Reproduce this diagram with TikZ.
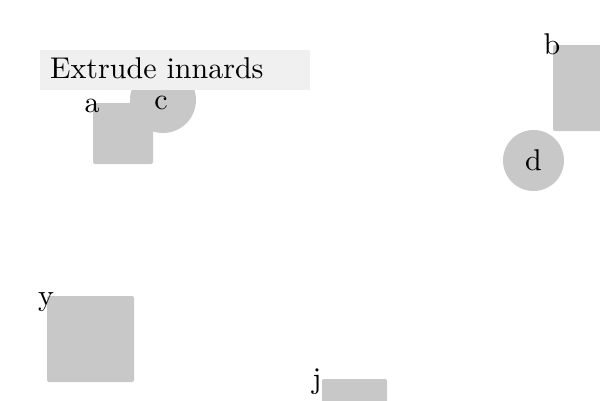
\documentclass[tikz,border=0pt]{standalone}
\usepackage{graphicx}

\definecolor{shapegray}{RGB}{200,200,200}
\definecolor{bargray}{RGB}{240,240,240}

% 10pt design size, blown up
\newcommand{\bigtxt}[1]{\scalebox{3}{\fontsize{10}{12}\selectfont #1}}

\begin{document}
\begin{tikzpicture}[x=1pt,y=-1pt,
    blob/.style={fill=shapegray, rounded corners=2pt, inner sep=0pt, outer sep=0pt},
    disc/.style={fill=shapegray, circle, inner sep=0pt, outer sep=0pt},
    tag/.style={anchor=base, inner sep=0pt, yshift=-9.5pt}]
    \useasboundingbox (0,0) rectangle (600,400);

    % Shapes
    \node[disc, minimum size=66pt] (c) at (163,100) {};
    \node[blob, anchor=north west, minimum width=60pt, minimum height=61pt] (a) at (93,103) {};
    \node[blob, anchor=north west, minimum width=60pt, minimum height=86pt] (b) at (553,45) {};
    \node[disc, minimum size=61pt] (d) at (533.5,160.5) {};
    \node[blob, anchor=north west, minimum width=87pt, minimum height=86pt] (y) at (47,296) {};
    \node[blob, anchor=north west, minimum width=65pt, minimum height=60pt] (j) at (322,379) {};

    % Title bar
    \fill[bargray] (40,50) rectangle (310,90);
    \node[anchor=base west, inner sep=0pt] (title) at (50,78) {\bigtxt{Extrude innards}};

    % Labels
    \node[tag] (la) at ([xshift=-1pt]a.north west) {\bigtxt{a}};
    \node[tag] (lb) at ([xshift=-1pt]b.north west) {\bigtxt{b}};
    \node[tag] (lc) at ([xshift=-2pt]c.center) {\bigtxt{c}};
    \node[tag] (ld) at (d.center) {\bigtxt{d}};
    \node[tag] (ly) at ([xshift=-1pt]y.north west) {\bigtxt{y}};
    \node[tag] (lj) at ([xshift=-5pt]j.north west) {\bigtxt{j}};
\end{tikzpicture}
\end{document}
